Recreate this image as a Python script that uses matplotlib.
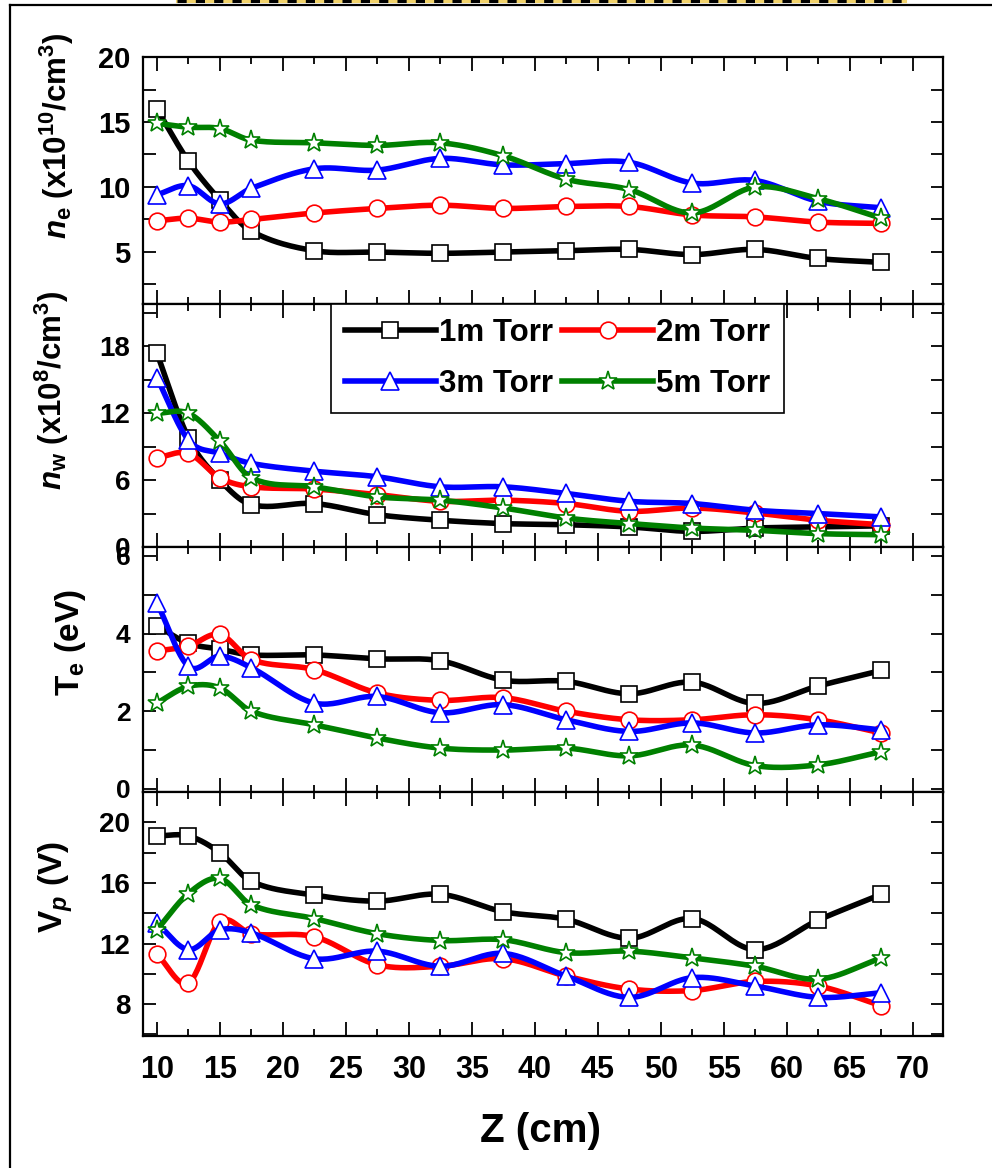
import numpy as np
import matplotlib.pyplot as plt
from matplotlib.ticker import MultipleLocator
from matplotlib.lines import Line2D

plt.rcParams['font.family'] = ['Liberation Sans']
plt.rcParams['font.weight'] = 'bold'
plt.rcParams['mathtext.fontset'] = 'custom'
plt.rcParams['mathtext.rm'] = 'Liberation Sans:bold'
plt.rcParams['mathtext.it'] = 'Liberation Sans:bold:italic'
plt.rcParams['mathtext.bf'] = 'Liberation Sans:bold'

# axial position (cm)
z = [10, 12.5, 15, 17.5, 22.5, 27.5, 32.5, 37.5, 42.5, 47.5, 52.5, 57.5, 62.5, 67.5]
z_ticks = [10, 15, 20, 25, 30, 35, 40, 45, 50, 55, 60, 65, 70]
z_ticklabels = ['10', '15', '20', '25', '30', '35', '40', '45', '50', '55', '60', '65', '70']

pressures = ['1m Torr', '2m Torr', '3m Torr', '5m Torr']

# electron density (x10^10 /cm^3)
ne_1 = [16.0, 12.0, 9.0, 6.6, 5.1, 5.0, 4.9, 5.0, 5.1, 5.2, 4.8, 5.2, 4.5, 4.2]
ne_2 = [7.4, 7.6, 7.3, 7.5, 8.0, 8.35, 8.6, 8.35, 8.5, 8.5, 7.85, 7.7, 7.3, 7.2]
ne_3 = [9.4, 10.1, 8.7, 9.9, 11.4, 11.3, 12.2, 11.7, 11.8, 11.9, 10.3, 10.5, 8.9, 8.4]
ne_5 = [14.9, 14.6, 14.5, 13.6, 13.4, 13.2, 13.4, 12.4, 10.6, 9.8, 8.0, 10.0, 9.1, 7.6]

# wave-related density (x10^8 /cm^3)
nw_1 = [17.4, 9.8, 6.0, 3.8, 3.9, 2.9, 2.4, 2.1, 2.0, 1.8, 1.4, 1.7, 1.8, 1.9]
nw_2 = [8.0, 8.4, 6.2, 5.4, 5.2, 4.7, 4.1, 4.2, 3.9, 3.2, 3.5, 3.05, 2.4, 2.0]
nw_3 = [15.2, 9.6, 8.4, 7.5, 6.8, 6.3, 5.4, 5.4, 4.8, 4.1, 3.9, 3.3, 3.0, 2.7]
nw_5 = [12.0, 12.0, 9.5, 6.2, 5.4, 4.5, 4.2, 3.5, 2.6, 2.1, 1.7, 1.5, 1.2, 1.1]

# electron temperature (eV)
te_1 = [4.2, 3.75, 3.6, 3.45, 3.45, 3.35, 3.3, 2.8, 2.77, 2.45, 2.75, 2.2, 2.65, 3.05]
te_2 = [3.55, 3.68, 3.98, 3.33, 3.07, 2.47, 2.28, 2.35, 2.0, 1.78, 1.78, 1.91, 1.78, 1.44]
te_3 = [4.8, 3.16, 3.42, 3.12, 2.21, 2.38, 1.96, 2.17, 1.78, 1.48, 1.7, 1.44, 1.65, 1.52]
te_5 = [2.21, 2.64, 2.6, 2.0, 1.65, 1.31, 1.05, 1.0, 1.05, 0.85, 1.13, 0.6, 0.62, 0.96]

# plasma potential (V)
vp_1 = [19.1, 19.1, 18.0, 16.1, 15.2, 14.8, 15.25, 14.1, 13.6, 12.35, 13.65, 11.6, 13.55, 15.25]
vp_2 = [11.3, 9.4, 13.45, 12.65, 12.45, 10.6, 10.5, 11.0, 9.85, 9.0, 8.9, 9.5, 9.2, 7.9]
vp_3 = [13.35, 11.6, 12.9, 12.7, 11.0, 11.5, 10.5, 11.35, 9.85, 8.45, 9.75, 9.2, 8.45, 8.75]
vp_5 = [12.9, 15.3, 16.3, 14.55, 13.65, 12.65, 12.2, 12.25, 11.4, 11.5, 11.05, 10.5, 9.65, 11.05]

colors = ['black', 'red', 'blue', 'green']
markers = ['s', 'o', '^', '*']
msizes = [11.5, 12, 13, 14]

W, H = 992, 1168


def fx(px):
    return px / W


def fy(py):
    return 1 - py / H


def smooth(x, y, n=24):
    # cubic hermite curve with catmull-rom tangents, goes through every point
    x = np.asarray(x, float)
    y = np.asarray(y, float)
    m = np.empty_like(y)
    m[1:-1] = (y[2:] - y[:-2]) / (x[2:] - x[:-2])
    m[0] = (y[1] - y[0]) / (x[1] - x[0])
    m[-1] = (y[-1] - y[-2]) / (x[-1] - x[-2])
    xs, ys = [], []
    t = np.linspace(0, 1, n, endpoint=False)
    h00 = 2 * t**3 - 3 * t**2 + 1
    h10 = t**3 - 2 * t**2 + t
    h01 = -2 * t**3 + 3 * t**2
    h11 = t**3 - t**2
    for i in range(len(x) - 1):
        h = x[i + 1] - x[i]
        xs.append(x[i] + t * h)
        ys.append(h00 * y[i] + h10 * h * m[i] + h01 * y[i + 1] + h11 * h * m[i + 1])
    xs.append([x[-1]])
    ys.append([y[-1]])
    return np.concatenate(xs), np.concatenate(ys)


fig = plt.figure(figsize=(W / 100, H / 100), dpi=100)

# panel boxes in pixels: top, bottom
panel_px = [(57, 304), (304, 547), (547, 792), (792, 1036)]
left_px, right_px = 143, 943
axes = []
for top, bot in panel_px:
    ax = fig.add_axes([fx(left_px), fy(bot), (right_px - left_px) / W, (bot - top) / H])
    axes.append(ax)
ax1, ax2, ax3, ax4 = axes

panels = [
    (ax1, [ne_1, ne_2, ne_3, ne_5], (1, 20), 5, 2.5, 21),
    (ax2, [nw_1, nw_2, nw_3, nw_5], (0, 21.8), 6, 3, 20),
    (ax3, [te_1, te_2, te_3, te_5], (-0.08, 6.23), 2, 1, 19),
    (ax4, [vp_1, vp_2, vp_3, vp_5], (5.9, 22), 4, 2, 20),
]

for ax, series, ylim, ymaj, ymin, lsize in panels:
    for k, vals in enumerate(series):
        sx, sy = smooth(z, vals)
        ax.plot(sx, sy, color=colors[k], lw=4, solid_capstyle='butt', zorder=2 + 2 * k)
        ax.plot(z, vals, ls='none', marker=markers[k], ms=msizes[k], mfc='white',
                mec=colors[k], mew=1.2, zorder=3 + 2 * k)
    ax.set_xlim(8.9, 72.4)
    ax.set_ylim(*ylim)
    ax.xaxis.set_major_locator(MultipleLocator(5))
    ax.xaxis.set_minor_locator(MultipleLocator(2.5))
    ax.yaxis.set_major_locator(MultipleLocator(ymaj))
    ax.yaxis.set_minor_locator(MultipleLocator(ymin))
    ax.tick_params(which='both', direction='in', top=True, right=True, width=1.3)
    ax.tick_params(axis='x', which='major', length=10)
    ax.tick_params(axis='x', which='minor', length=5)
    ax.tick_params(axis='y', which='both', length=9, labelsize=lsize, pad=9)
    for s in ax.spines.values():
        s.set_linewidth(1.6)
    if ax is not ax4:
        ax.tick_params(axis='x', labelbottom=False)

ax4.set_xticks(z_ticks)
ax4.set_xticklabels(z_ticklabels, fontsize=22, fontweight='bold')
ax4.tick_params(axis='x', pad=14)

# legend sits in the n_w panel
handles = [Line2D([], [], color=colors[k], lw=4, marker=markers[k], ms=msizes[k],
                  mfc='white', mec=colors[k], mew=1.2) for k in range(4)]
order = [0, 2, 1, 3]
leg = ax2.legend([handles[i] for i in order], [pressures[i] for i in order],
                 ncol=2, loc='upper left', bbox_to_anchor=(0.235, 1.0), borderaxespad=0,
                 fontsize=22.5, handlelength=2.9, handletextpad=0.1, columnspacing=0.3,
                 labelspacing=0.68, borderpad=0.45, fancybox=False, framealpha=1,
                 edgecolor='black')
leg.get_frame().set_linewidth(1.2)
leg.set_zorder(20)

# axis titles
fig.text(fx(57), fy(136), r'$\mathit{n}_\mathrm{e}$ (x10$^{10}$/cm$^3$)', rotation=90,
         ha='center', va='center', fontsize=22.5)
fig.text(fx(52), fy(390), r'$\mathit{n}_\mathrm{w}$ (x10$^{8}$/cm$^3$)', rotation=90,
         ha='center', va='center', fontsize=22.5)
fig.text(fx(71), fy(642), r'T$_\mathrm{e}$ (eV)', rotation=90, ha='center', va='center',
         fontsize=24)
fig.text(fx(56), fy(887), r'V$_\mathit{p}$ (V)', rotation=90, ha='center', va='center',
         fontsize=24)
fig.text(fx(541), fy(1131), 'Z (cm)', ha='center', va='center', fontsize=29)

# outer frame
fig.add_artist(Line2D([fx(10), fx(10)], [fy(5), 0], lw=1.6, color='black', transform=fig.transFigure))
fig.add_artist(Line2D([fx(10), 1], [fy(5), fy(5)], lw=1.6, color='black', transform=fig.transFigure))
fig.add_artist(Line2D([fx(177), fx(905)], [fy(1), fy(1)], lw=2.2, color='#f2d36b', transform=fig.transFigure))
fig.add_artist(Line2D([fx(177), fx(905)], [fy(1), fy(1)], lw=2.2, color='black', ls=(0, (3, 3)),
                      transform=fig.transFigure))

fig.savefig('out.png', dpi=100)
